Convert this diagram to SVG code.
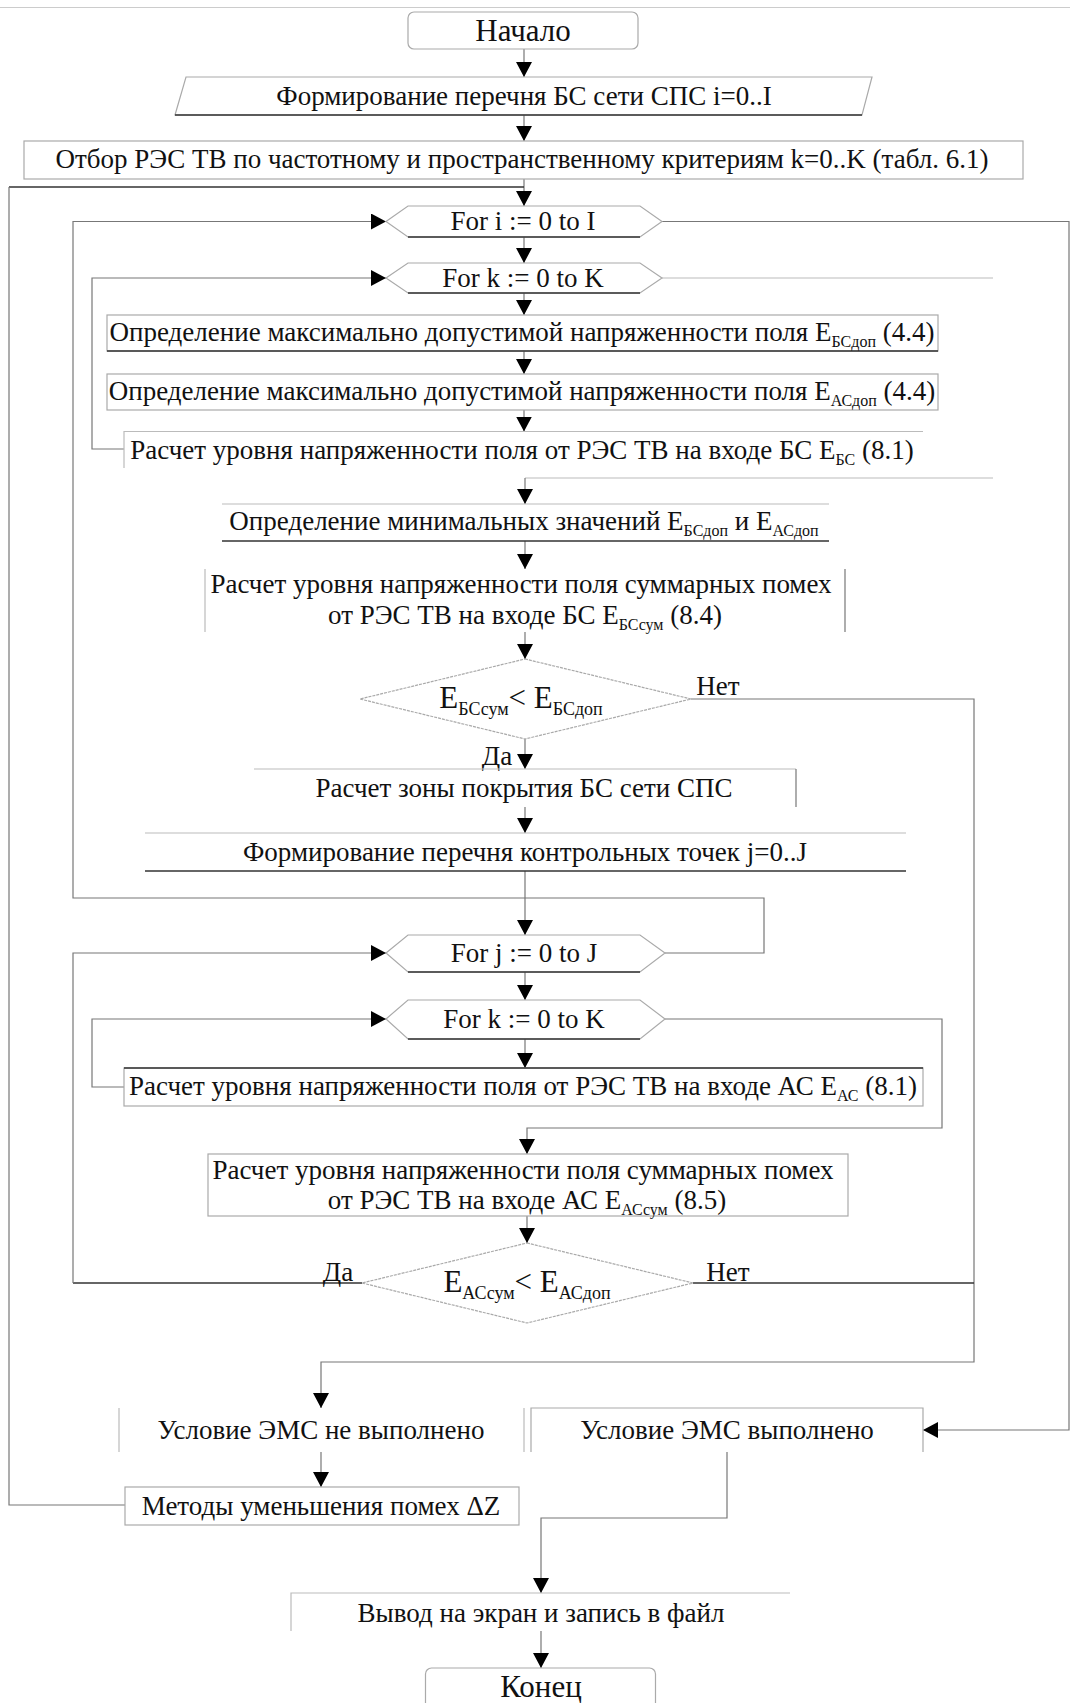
<svg xmlns="http://www.w3.org/2000/svg" width="1070" height="1703" viewBox="0 0 1070 1703">
<defs>
<marker id="ah" viewBox="0 0 15 16" refX="15" refY="8" markerWidth="15" markerHeight="16" markerUnits="userSpaceOnUse" orient="auto"><path d="M0,0 L15,8 L0,16 z" fill="#000"/></marker>
<style>
.t{font-family:"Liberation Serif","Times New Roman",serif;font-size:27px;fill:#111;text-anchor:middle}
.term{font-size:31px}
.big{font-size:31px}
.bx{fill:#fff;stroke:#aaa;stroke-width:1.2}
.lt{stroke:#bbb;stroke-width:1.2;fill:none}
.dk{stroke:#333;stroke-width:1.3;fill:none}
.ln{stroke:#777;stroke-width:1.2;fill:none}
.ar{marker-end:url(#ah)}
</style>
</defs>
<rect width="1070" height="1703" fill="#fff"/>
<line x1="0" y1="7.5" x2="1070" y2="7.5" stroke="#ccc" stroke-width="1.2"/>

<g id="connectors">
<path class="ln ar" d="M524,49 V77"/>
<path class="ln ar" d="M524,115 V141"/>
<path class="ln ar" d="M524,179 V206"/>
<path class="dk" d="M524,187 H9"/>
<path class="ln" d="M9,187 V1505 H125"/>
<path class="ln ar" d="M665,953 H764 V898 H73 V221.5 H386"/>
<path class="ln ar" d="M662,221.5 H1069 V1430 H923"/>
<path class="ln ar" d="M524,237 V263"/>
<path class="ln ar" d="M124,449 H92 V278 H386"/>
<path class="lt" d="M662,278 H993"/>
<path class="ln ar" d="M524,293 V315"/>
<path class="ln ar" d="M524,351 V374"/>
<path class="ln ar" d="M524,410 V431.5"/>
<path class="lt" d="M993,478 H525"/>
<path class="ln ar" d="M525,478 V504"/>
<path class="ln ar" d="M525,541 V569"/>
<path class="ln ar" d="M525,632 V659"/>
<path class="ln ar" d="M525,739 V769"/>
<path class="ln ar" d="M691,699 H974 V1362 H321 V1408"/>
<path class="ln ar" d="M525,807 V833"/>
<path class="ln ar" d="M525,871 V935"/>
<path class="dk" d="M362,1283 H73"/>
<path class="ln ar" d="M73,1283 V953 H386"/>
<path class="ln ar" d="M525,972 V1000"/>
<path class="ln ar" d="M124,1087 H92 V1019 H386"/>
<path class="ln ar" d="M665,1019 H942 V1128 H527 V1154"/>
<path class="ln ar" d="M525,1039 V1068"/>
<path class="ln ar" d="M527,1216 V1243"/>
<path class="dk" d="M693,1283 H974"/>
<path class="ln ar" d="M321,1452 V1487"/>
<path class="ln ar" d="M727,1452 V1518 H541 V1593"/>
<path class="ln ar" d="M541,1631 V1668"/>
</g>

<g id="n_start">
<rect class="bx" x="408" y="12" width="230" height="37" rx="6"/>
<text class="t term" x="523" y="41">Начало</text>
</g>
<g id="n_list">
<polygon class="bx" points="186,77 872,77 862,115 175,115"/>
<line class="dk" x1="175" y1="115" x2="862" y2="115"/>
<text class="t" x="524" y="105">Формирование перечня БС сети СПС i=0..I</text>
</g>
<g id="n_select">
<rect class="bx" x="24" y="141" width="999" height="38"/>
<text class="t" x="522" y="168">Отбор РЭС ТВ по частотному и пространственному критериям k=0..K (табл. 6.1)</text>
</g>
<g id="n_fori">
<polygon class="bx" points="386,221.5 408,206 640,206 662,221.5 640,237 408,237"/>
<line class="dk" x1="408" y1="237" x2="640" y2="237"/>
<text class="t" x="523" y="230">For i := 0 to I</text>
</g>
<g id="n_fork1">
<polygon class="bx" points="386,278 408,263 640,263 662,278 640,293 408,293"/>
<line class="dk" x1="408" y1="293" x2="640" y2="293"/>
<text class="t" x="523" y="287">For k := 0 to K</text>
</g>
<g id="n_box1">
<rect class="bx" x="107" y="315" width="831" height="36"/>
<line class="dk" x1="107" y1="351" x2="938" y2="351"/>
<text class="t" x="522" y="341">Определение максимально допустимой напряженности поля E<tspan font-size="16" dy="6">БСдоп</tspan><tspan dy="-6"> (4.4)</tspan></text>
</g>
<g id="n_box2">
<rect class="bx" x="107" y="374" width="831" height="36"/>
<text class="t" x="522" y="400">Определение максимально допустимой напряженности поля E<tspan font-size="16" dy="6">АСдоп</tspan><tspan dy="-6"> (4.4)</tspan></text>
</g>
<g id="n_box3">
<path class="lt" d="M124,468 V431.5 H923"/>
<text class="t" x="522" y="459">Расчет уровня напряженности поля от РЭС ТВ на входе БС E<tspan font-size="16" dy="6">БС</tspan><tspan dy="-6"> (8.1)</tspan></text>
</g>
<g id="n_min">
<line class="lt" x1="222" y1="504" x2="829" y2="504"/>
<line class="dk" x1="222" y1="541" x2="829" y2="541"/>
<text class="t" x="524" y="530">Определение минимальных значений E<tspan font-size="16" dy="6">БСдоп</tspan><tspan dy="-6">  и E</tspan><tspan font-size="16" dy="6">АСдоп</tspan></text>
</g>
<g id="n_sum1">
<path class="lt" d="M205,569 V632"/>
<path class="ln" d="M845,569 V632"/>
<text class="t" x="521" y="593">Расчет уровня напряженности поля суммарных помех</text>
<text class="t" x="525" y="624">от РЭС ТВ на входе БС E<tspan font-size="16" dy="6">БСсум</tspan><tspan dy="-6"> (8.4)</tspan></text>
</g>
<g id="n_dec1">
<polygon class="bx" points="525,659 691,699 525,739 360,699" stroke-dasharray="3,1"/>
<text class="t big" x="521" y="708">E<tspan font-size="18" dy="7">БСсум</tspan><tspan dy="-7">&lt; E</tspan><tspan font-size="18" dy="7">БСдоп</tspan></text>
<text class="t" x="718" y="695">Нет</text>
<text class="t" x="497" y="765">Да</text>
</g>
<g id="n_zone">
<path class="lt" d="M254,769 H796"/>
<path class="ln" d="M796,769 V807"/>
<text class="t" x="524" y="797">Расчет зоны покрытия БС сети СПС</text>
</g>
<g id="n_points">
<line class="lt" x1="145" y1="833" x2="906" y2="833"/>
<line class="dk" x1="145" y1="871" x2="906" y2="871"/>
<text class="t" x="525" y="861">Формирование перечня контрольных точек j=0..J</text>
</g>
<g id="n_forj">
<polygon class="bx" points="386,953 408,935 640,935 665,953 640,972 408,972"/>
<line class="dk" x1="408" y1="972" x2="640" y2="972"/>
<text class="t" x="524" y="962">For j := 0 to J</text>
</g>
<g id="n_fork2">
<polygon class="bx" points="386,1019 408,1000 640,1000 665,1019 640,1039 408,1039"/>
<line class="dk" x1="408" y1="1039" x2="640" y2="1039"/>
<text class="t" x="524" y="1028">For k := 0 to K</text>
</g>
<g id="n_box4">
<rect class="bx" x="124" y="1068" width="799" height="38"/>
<line class="dk" x1="124" y1="1068" x2="923" y2="1068"/>
<text class="t" x="523" y="1095">Расчет уровня напряженности поля от РЭС ТВ на входе АС E<tspan font-size="16" dy="6">АС</tspan><tspan dy="-6"> (8.1)</tspan></text>
</g>
<g id="n_sum2">
<rect class="bx" x="208" y="1154" width="640" height="62"/>
<text class="t" x="523" y="1179">Расчет уровня напряженности поля суммарных помех</text>
<text class="t" x="527" y="1209">от РЭС ТВ на входе АС E<tspan font-size="16" dy="6">АСсум</tspan><tspan dy="-6"> (8.5)</tspan></text>
</g>
<g id="n_dec2">
<polygon class="bx" points="527,1243 693,1283 527,1323 362,1283" stroke-dasharray="3,1"/>
<text class="t big" x="527" y="1292">E<tspan font-size="18" dy="7">АСсум</tspan><tspan dy="-7">&lt; E</tspan><tspan font-size="18" dy="7">АСдоп</tspan></text>
<text class="t" x="338" y="1281">Да</text>
<text class="t" x="728" y="1281">Нет</text>
</g>
<g id="n_fail">
<line class="lt" x1="119" y1="1408" x2="119" y2="1452"/>
<text class="t" x="321" y="1439">Условие ЭМС не выполнено</text>
</g>
<g id="n_ok">
<path class="bx" d="M531,1452 V1408 H923 V1452" fill="none"/>
<line class="lt" x1="524" y1="1408" x2="524" y2="1452"/>
<text class="t" x="727" y="1439">Условие ЭМС выполнено</text>
</g>
<g id="n_methods">
<rect class="bx" x="125" y="1487" width="394" height="38"/>
<text class="t" x="321" y="1515">Методы уменьшения помех ΔZ</text>
</g>
<g id="n_output">
<path class="lt" d="M291,1631 V1593 H790"/>
<text class="t" x="541" y="1622">Вывод на экран и запись в файл</text>
</g>
<g id="n_end">
<rect class="bx" x="425.5" y="1668" width="230" height="50" rx="6"/>
<text class="t term" x="541" y="1697">Конец</text>
</g>
</svg>
